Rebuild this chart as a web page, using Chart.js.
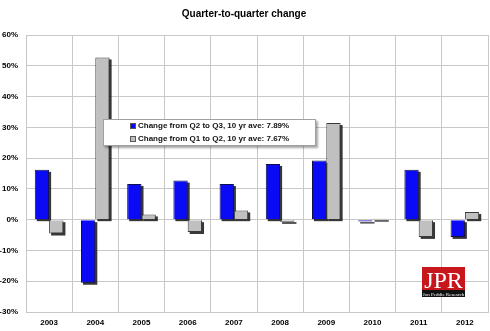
<!DOCTYPE html>
<html>
<head>
<meta charset="utf-8">
<title>Quarter-to-quarter change</title>
<script src="https://cdn.jsdelivr.net/npm/chart.js@4/dist/chart.umd.min.js"></script>
<style>
  html, body { margin: 0; padding: 0; background: #fff; }
  #wrap { width: 490px; height: 331px; position: relative; }
</style>
</head>
<body>
<div id="wrap"><canvas id="qq-chart"></canvas></div>
<script>
var years = ['2003', '2004', '2005', '2006', '2007', '2008', '2009', '2010', '2011', '2012'];
var q2q3 = [16.2, -20.5, 11.6, 12.7, 11.6, 18.1, 19.2, -0.6, 16.2, -5.6];
var q1q2 = [-4.5, 52.7, 1.7, -4.0, 3.0, -0.7, 31.4, 0.3, -5.6, 2.5];
var seriesNames = ['Change from Q2 to Q3, 10 yr ave: 7.89%', 'Change from Q1 to Q2, 10 yr ave: 7.67%'];
var yTicks = [-30, -20, -10, 0, 10, 20, 30, 40, 50, 60];

var FONT = '"Liberation Sans", Arial, sans-serif';

// dark drop shadow behind every bar, taken from the bar elements themselves
var barShadow = {
  id: 'barShadow',
  beforeDatasetsDraw: function (chart) {
    var ctx = chart.ctx;
    ctx.save();
    ctx.fillStyle = 'rgba(20,20,20,0.85)';
    chart.data.datasets.forEach(function (ds, i) {
      chart.getDatasetMeta(i).data.forEach(function (bar) {
        var p = bar.getProps(['x', 'y', 'base', 'width'], true);
        var top = Math.min(p.y, p.base), bottom = Math.max(p.y, p.base);
        if (bottom - top < 1) { top -= 0.5; bottom += 0.5; }
        ctx.fillRect(p.x - p.width / 2 + 2, top + 2, p.width, bottom - top);
      });
    });
    ctx.restore();
  }
};

// floating legend box + JPR logo
var overlay = {
  id: 'overlay',
  afterDraw: function (chart) {
    var ctx = chart.ctx;
    var sets = chart.data.datasets;

    ctx.save();
    ctx.shadowColor = 'rgba(0,0,0,0.35)';
    ctx.shadowOffsetX = 2;
    ctx.shadowOffsetY = 2;
    ctx.shadowBlur = 2;
    ctx.fillStyle = '#fff';
    ctx.fillRect(103, 119, 213, 27);
    ctx.restore();

    ctx.save();
    ctx.strokeStyle = '#a0a0a0';
    ctx.lineWidth = 1;
    ctx.strokeRect(103.5, 119.5, 212, 26);

    ctx.font = 'bold 8px ' + FONT;
    ctx.textBaseline = 'middle';
    for (var i = 0; i < sets.length; i++) {
      var y = 126 + i * 13;
      ctx.fillStyle = sets[i].backgroundColor;
      ctx.fillRect(130, y - 3, 6, 6);
      ctx.strokeStyle = '#555';
      ctx.strokeRect(130.5, y - 2.5, 5, 5);
      ctx.fillStyle = '#111';
      ctx.fillText(sets[i].label, 138, y);
    }

    // logo
    ctx.fillStyle = '#c8161d';
    ctx.fillRect(422, 267, 43, 24);
    ctx.fillStyle = '#111';
    ctx.fillRect(422, 290, 43, 7);
    ctx.fillStyle = '#fff';
    ctx.textAlign = 'center';
    ctx.textBaseline = 'alphabetic';
    ctx.font = '24px "Liberation Serif", "DejaVu Serif", serif';
    ctx.fillText('JPR', 443.5, 288);
    ctx.font = '5px "Liberation Serif", serif';
    ctx.fillText('Jon Peddie Research', 443.5, 295.5);
    ctx.restore();
  }
};

var ctx = document.getElementById('qq-chart').getContext('2d');
var qqChart = new Chart(ctx, {
  type: 'bar',
  data: {
    labels: years,
    datasets: [
      {
        label: seriesNames[0],
        data: q2q3,
        backgroundColor: '#0a0af5',
        borderColor: '#10104a',
        borderWidth: 1
      },
      {
        label: seriesNames[1],
        data: q1q2,
        backgroundColor: '#c0c0c0',
        borderColor: '#3a3a3a',
        borderWidth: 1
      }
    ]
  },
  options: {
    responsive: true,
    maintainAspectRatio: false,
    animation: false,
    layout: { padding: { left: 0, right: 2, top: 0, bottom: 0 } },
    datasets: { bar: { categoryPercentage: 0.62, barPercentage: 1 } },
    plugins: {
      legend: { display: false },
      tooltip: { enabled: false },
      title: {
        display: true,
        text: 'Quarter-to-quarter change',
        color: '#000',
        font: { family: FONT, size: 10, weight: 'bold' },
        padding: { top: 8, bottom: 15 }
      }
    },
    scales: {
      x: {
        grid: { color: '#c8c8c8', offset: true, drawTicks: false },
        border: { color: '#c8c8c8' },
        ticks: { color: '#000', font: { family: FONT, size: 8, weight: 'bold' }, padding: 6 },
        afterFit: function (s) { s.height = 19; }
      },
      y: {
        min: yTicks[0],
        max: yTicks[yTicks.length - 1],
        afterBuildTicks: function (s) {
          s.ticks = yTicks.map(function (v) { return { value: v }; });
        },
        grid: { color: '#c8c8c8', drawTicks: false },
        border: { color: '#c8c8c8' },
        ticks: {
          color: '#000',
          font: { family: FONT, size: 8, weight: 'bold' },
          padding: 8,
          callback: function (v) { return v + '%'; }
        },
        afterFit: function (s) { s.width = 26; }
      }
    }
  },
  plugins: [barShadow, overlay]
});
</script>
</body>
</html>
